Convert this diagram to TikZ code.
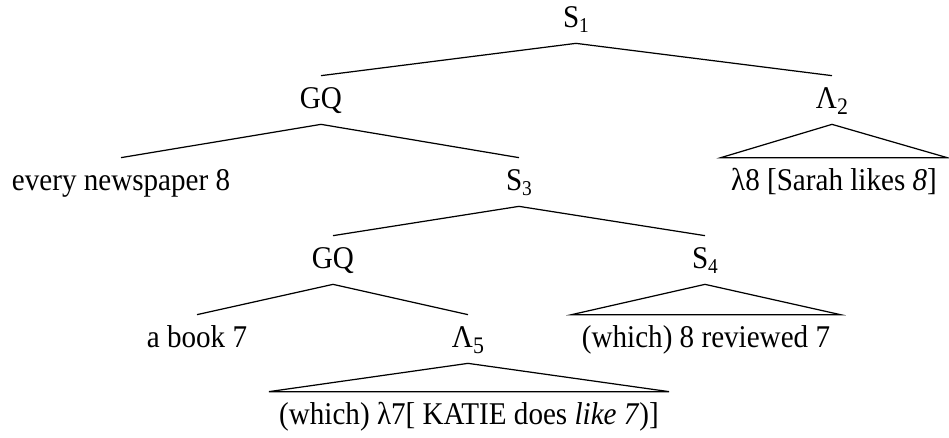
\documentclass[tikz,border=0pt]{standalone}
\usepackage{fontspec}
\setmainfont[FakeStretch=0.92]{Liberation Serif}
\newcommand{\Lam}{{\fontsize{18}{18}\selectfont Λ}}
\newcommand{\sub}[1]{\raisebox{-0.11cm}{\fontsize{12}{12}\selectfont #1}}
\newcommand{\lsub}[1]{\raisebox{-0.12cm}{\fontsize{13.5}{13.5}\selectfont #1}}

\begin{document}
\begin{tikzpicture}[
    font=\fontsize{18}{21}\selectfont,
    cat/.style={anchor=base, text height=0.44cm, text depth=0.12cm,
                inner ysep=0.2cm, inner xsep=0.2cm},
    edge/.style={draw, line width=0.7pt},
  ]
  \useasboundingbox (0,0) rectangle (18.98,-8.74);

  %% ================================================================
  %% Upper part: S1, GQ, Lambda 2
  %% ================================================================
  \node[cat] (S1)    at (11.52, -0.54) {S\sub{1}};
  \node[cat] (GQa)   at (6.42,  -2.16) {GQ};
  \node[cat] (L2)    at (16.64, -2.16) {\Lam\lsub{2}};

  \node[cat] (every) at (2.42,  -3.80) {every newspaper 8};
  \node[cat] (S3)    at (10.38, -3.80) {S\sub{3}};
  \node[cat] (sarah) at (16.68, -3.80) {λ8 [Sarah likes \textit{8}]};

  \draw[edge] (GQa.north) -- (S1.south) -- (L2.north);
  \draw[edge] (every.north) -- (GQa.south) -- (S3.north);
  \draw[edge] (L2.south) -- (sarah.north west) -- (sarah.north east) -- cycle;

  %% ================================================================
  %% Lower part: S3 down to the leaves
  %% ================================================================
  \node[cat] (GQb)   at (6.66,  -5.36) {GQ};
  \node[cat] (S4)    at (14.10, -5.36) {S\sub{4}};

  \node[cat] (book)  at (3.94,  -6.94) {a book 7};
  \node[cat] (L5)    at (9.36,  -6.94) {\Lam\lsub{5}};
  \node[cat] (rev)   at (14.12, -6.94) {(which) 8 reviewed 7};

  \node[cat] (katie) at (9.38,  -8.48) {(which) λ7[ KATIE does \textit{like 7})]};

  \draw[edge] (GQb.north) -- (S3.south) -- (S4.north);
  \draw[edge] (book.north) -- (GQb.south) -- (L5.north);
  \draw[edge] (S4.south) -- (rev.north west) -- (rev.north east) -- cycle;
  \draw[edge] (L5.south) -- (katie.north west) -- (katie.north east) -- cycle;

\end{tikzpicture}
\end{document}
